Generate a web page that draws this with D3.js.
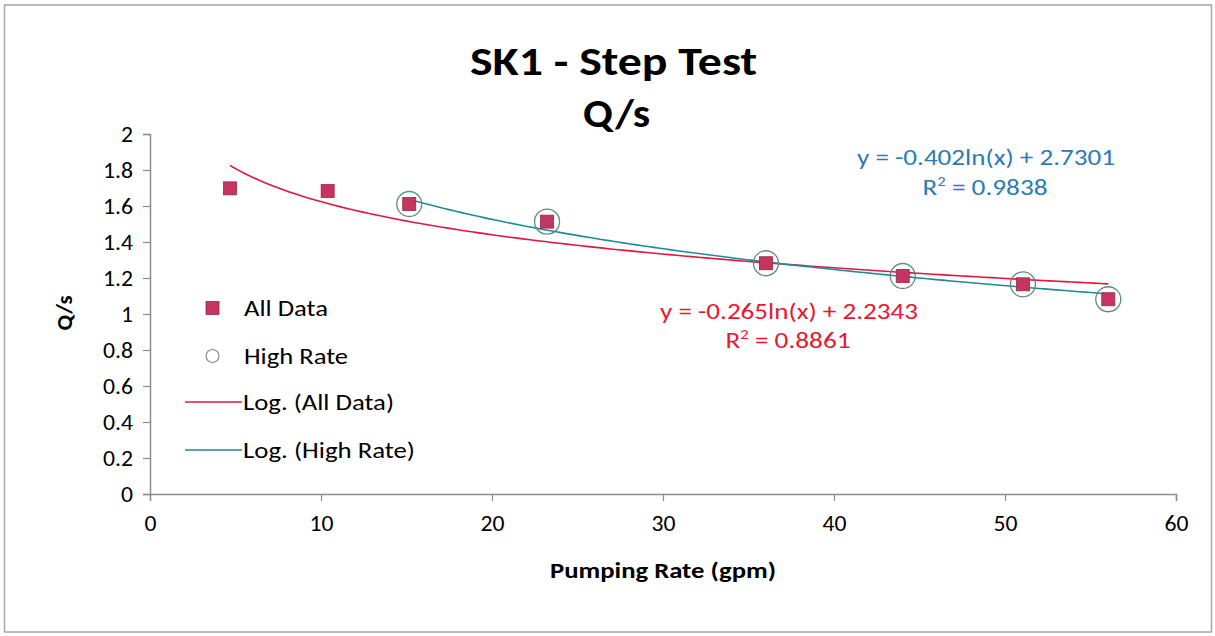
<!DOCTYPE html>
<html>
<head>
<meta charset="utf-8">
<script src="https://cdn.jsdelivr.net/npm/d3@7"></script>
<style>
  html, body { margin: 0; padding: 0; background: #fff; }
  svg { display: block; font-family: Carlito, Lato, "Open Sans", sans-serif; }
</style>
</head>
<body>
<svg id="chart" width="1215" height="636"></svg>
<script>
// Step test: specific capacity (Q/s) against pumping rate
const pumpingRate = [4.68, 10.39, 15.16, 23.22, 36.02, 44.02, 51.05, 56.04];
const specificCapacity = [1.698, 1.683, 1.611, 1.513, 1.282, 1.211, 1.165, 1.082];
const highRateStart = 2; // high-rate steps begin at the third point
const xTicks = [0, 10, 20, 30, 40, 50, 60];
const yTicks = [0, 0.2, 0.4, 0.6, 0.8, 1, 1.2, 1.4, 1.6, 1.8, 2];
// logarithmic trendlines y = a ln(x) + b
const fitAll = { a: -0.265, b: 2.2343, r2: 0.8861 };
const fitHigh = { a: -0.402, b: 2.7301, r2: 0.9838 };
const legendLabels = ["All Data", "High Rate", "Log. (All Data)", "Log. (High Rate)"];

const colors = {
  square: "#C4365F",
  squareEdge: "#9E2448",
  circle: "#5E8C7E",
  lineAll: "#E0173F",
  lineHigh: "#1F8A98",
  textAll: "#E8172F",
  textHigh: "#2A7AB8",
  axis: "#8C8C8C"
};

const svg = d3.select("#chart");

// outer frame
svg.append("rect").attr("x", 4.5).attr("y", 5).attr("width", 1207).attr("height", 627)
  .attr("fill", "#fff").attr("stroke", "#a6a6a6").attr("stroke-width", 1.5);

const x = d3.scaleLinear().domain([0, 60]).range([150, 1176]);
const y = d3.scaleLinear().domain([0, 2]).range([494, 134]);

// fits text to a given width
function fitText(sel, w) {
  return sel.attr("textLength", w).attr("lengthAdjust", "spacingAndGlyphs");
}
// width of a numeric tick label: digits wide, decimal point narrow
const numWidth = s => [...s].reduce((w, c) => w + (c === "." ? 6 : 12), 0);

// titles
fitText(svg.append("text").attr("x", 613.5).attr("y", 75).attr("text-anchor", "middle")
  .attr("font-size", 41).attr("font-weight", "bold").attr("fill", "#000").text("SK1 - Step Test"), 287);
fitText(svg.append("text").attr("x", 616.5).attr("y", 127).attr("text-anchor", "middle")
  .attr("font-size", 41).attr("font-weight", "bold").attr("fill", "#000").text("Q/s"), 67);

// axes
const xAxis = svg.append("g").attr("transform", "translate(0,494)")
  .call(d3.axisBottom(x).tickValues(xTicks).tickSize(7).tickPadding(14).tickFormat(d3.format("d")));
const yAxis = svg.append("g").attr("transform", "translate(150,0)")
  .call(d3.axisLeft(y).tickValues(yTicks).tickSize(7).tickPadding(10).tickFormat(d => String(d)));
[xAxis, yAxis].forEach(g => {
  g.attr("font-size", 23).attr("font-family", "Carlito, Lato, sans-serif");
  g.select(".domain").attr("stroke", colors.axis).attr("stroke-width", 1.5);
  g.selectAll(".tick line").attr("stroke", colors.axis).attr("stroke-width", 1.2);
  g.selectAll(".tick text").attr("font-size", 23).attr("fill", "#000")
    .each(function () { fitText(d3.select(this), numWidth(this.textContent)); });
});

fitText(svg.append("text").attr("x", 663).attr("y", 578).attr("text-anchor", "middle")
  .attr("font-size", 22).attr("font-weight", "bold").text("Pumping Rate (gpm)"), 226);
fitText(svg.append("text").attr("transform", "translate(72,313) rotate(-90)").attr("text-anchor", "middle")
  .attr("font-size", 22).attr("font-weight", "bold").text("Q/s"), 35);

// trendlines
function curvePoints(fit, x0, x1) {
  return d3.range(0, 121).map(i => {
    const xv = x0 + (x1 - x0) * i / 120;
    return [xv, fit.a * Math.log(xv) + fit.b];
  });
}
const line = d3.line().x(d => x(d[0])).y(d => y(d[1]));
const xMin = d3.min(pumpingRate), xMax = d3.max(pumpingRate);
svg.append("path").attr("d", line(curvePoints(fitAll, xMin, xMax)))
  .attr("fill", "none").attr("stroke", colors.lineAll).attr("stroke-width", 1.6);
svg.append("path").attr("d", line(curvePoints(fitHigh, pumpingRate[highRateStart], xMax)))
  .attr("fill", "none").attr("stroke", colors.lineHigh).attr("stroke-width", 1.6);

// all data: squares
const sq = 13;
svg.append("g").selectAll("rect").data(pumpingRate).join("rect")
  .attr("x", (d) => x(d) - sq / 2)
  .attr("y", (d, i) => y(specificCapacity[i]) - sq / 2)
  .attr("width", sq).attr("height", sq)
  .attr("fill", colors.square).attr("stroke", colors.squareEdge).attr("stroke-width", 0.8);

// high rate: open circles
svg.append("g").selectAll("circle").data(pumpingRate.slice(highRateStart)).join("circle")
  .attr("cx", d => x(d))
  .attr("cy", (d, i) => y(specificCapacity[i + highRateStart]))
  .attr("r", 12.5)
  .attr("fill", "none").attr("stroke", colors.circle).attr("stroke-width", 1.3);

// trendline equations
function equation(fit) {
  const sign = fit.b >= 0 ? "+" : "-";
  return `y = ${fit.a.toFixed(3)}ln(x) ${sign} ${Math.abs(fit.b).toFixed(4)}`;
}
function r2Label(g, fit, cx, cy, color) {
  const t = g.append("text").attr("x", cx).attr("y", cy).attr("text-anchor", "middle")
    .attr("font-size", 23).attr("fill", color);
  t.append("tspan").text("R");
  t.append("tspan").attr("dy", -9).attr("font-size", 14).text("2");
  t.append("tspan").attr("dy", 9).text(` = ${fit.r2.toFixed(4)}`);
  fitText(t, 125);
}
const ann = svg.append("g");
fitText(ann.append("text").attr("x", 986).attr("y", 165).attr("text-anchor", "middle")
  .attr("font-size", 23).attr("fill", colors.textHigh).text(equation(fitHigh)), 258);
r2Label(ann, fitHigh, 985, 195, colors.textHigh);
fitText(ann.append("text").attr("x", 789).attr("y", 319).attr("text-anchor", "middle")
  .attr("font-size", 23).attr("fill", colors.textAll).text(equation(fitAll)), 258);
r2Label(ann, fitAll, 788, 348, colors.textAll);

// legend
const leg = svg.append("g");
const rows = [308, 356, 402, 450];
const legWidths = [84, 104, 151, 172];
leg.append("rect").attr("x", 206).attr("y", rows[0] - 6.5).attr("width", 13).attr("height", 13)
  .attr("fill", colors.square).attr("stroke", colors.squareEdge).attr("stroke-width", 0.8);
leg.append("circle").attr("cx", 212.5).attr("cy", rows[1]).attr("r", 6.5)
  .attr("fill", "none").attr("stroke", "#8a8a8a").attr("stroke-width", 1.2);
leg.append("line").attr("x1", 185).attr("x2", 242).attr("y1", rows[2]).attr("y2", rows[2])
  .attr("stroke", colors.lineAll).attr("stroke-width", 1.6);
leg.append("line").attr("x1", 185).attr("x2", 242).attr("y1", rows[3]).attr("y2", rows[3])
  .attr("stroke", colors.lineHigh).attr("stroke-width", 1.6);
legendLabels.forEach((lab, i) => {
  fitText(leg.append("text").attr("x", i < 2 ? 244 : 243).attr("y", rows[i]).attr("dy", "0.36em")
    .attr("font-size", 23).attr("fill", "#000").text(lab), legWidths[i]);
});
</script>
</body>
</html>
